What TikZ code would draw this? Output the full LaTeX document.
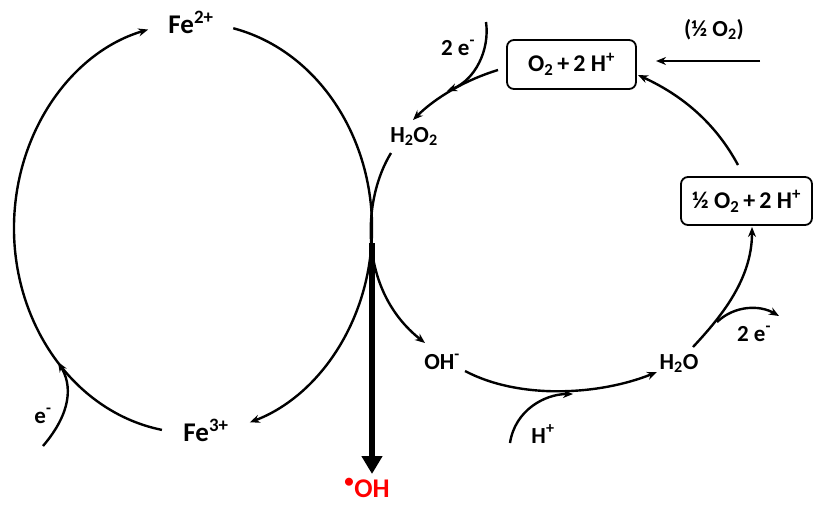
\documentclass[tikz,border=0pt]{standalone}
\usepackage{fontspec}
\setmainfont{Carlito}
\usetikzlibrary{arrows.meta}
\begin{document}
\begin{tikzpicture}[x=1pt,y=-1pt,
  cyc/.style={line width=2.4pt,-{Stealth[length=10pt,width=8pt]}},
  bigarrow/.style={line width=6pt,-{Triangle[length=18pt,width=20pt]}},
  big/.style={font=\fontsize{27}{30}\selectfont\bfseries,inner sep=0pt,anchor=base},
  lbl/.style={font=\fontsize{23}{26}\selectfont\bfseries,inner sep=0pt,anchor=base},
  box/.style={draw,line width=1.8pt,rounded corners=7pt,font=\fontsize{24}{26}\selectfont\bfseries,inner sep=0pt}
]
\useasboundingbox (0,0) rectangle (816,504);

% labels
\node[big] (fe2) at (191,33) {Fe\textsuperscript{2+}};
\node[big] (fe3) at (206,441) {Fe\textsuperscript{3+}};
\node[big,text=red] (oh) at (367,497) {\textsuperscript{•}OH};
\node[lbl] (h2o2) at (414,142) {H\textsubscript{2}O\textsubscript{2}};
\node[lbl] (ohm) at (442,369) {OH\textsuperscript{-}};
\node[lbl] (h2o) at (679,369) {H\textsubscript{2}O};
\node[lbl] (hp) at (543,443) {H\textsuperscript{+}};
\node[lbl] (e2a) at (458,55) {2 e\textsuperscript{-}};
\node[lbl] (e2b) at (754,341) {2 e\textsuperscript{-}};
\node[lbl] (halfo2) at (714,36) {(½ O\textsubscript{2})};
\node[lbl] (em) at (43,423) {e\textsuperscript{-}};
\node[box,minimum width=129pt,minimum height=49pt] (o2box) at (571.5,64.5) {O\textsubscript{2}\,+\,2 H\textsuperscript{+}};
\node[box,minimum width=131pt,minimum height=48pt] (hbox) at (746.5,201) {½ O\textsubscript{2}\,+\,2 H\textsuperscript{+}};

% left (iron) cycle
\coordinate (elc) at (193,228);
\draw[cyc] ([shift={(-77:179 and 205)}]elc) arc[start angle=-77,end angle=71.5,x radius=179,y radius=205];
\draw[cyc] ([shift={(100:179 and 205)}]elc) arc[start angle=100,end angle=255.5,x radius=179,y radius=205];
\coordinate (emstart) at (43,446);
\coordinate (emend) at (58,362);
\draw[cyc] (emstart) .. controls (72,412) and (72,385) .. (emend);

% hydroxyl radical
\coordinate (touch) at (372,243);
\coordinate (ohtip) at (372,474);
\draw[bigarrow] (touch) -- (ohtip);

% right (oxygen) cycle
\coordinate (o2out) at (498,70);
\coordinate (h2o2in) at (413,120);
\draw[cyc] (o2out) .. controls (465,80) and (435,98) .. (h2o2in);
\coordinate (e2astart) at (486,22);
\coordinate (e2aend) at (447,91);
\draw[cyc] (e2astart) .. controls (490,50) and (475,80) .. (e2aend);
\coordinate (h2o2out) at (391,153);
\coordinate (ohmin) at (425,343);
\draw[cyc] (h2o2out) .. controls (362,200) and (358,290) .. (ohmin);
\coordinate (ohmout) at (465,371);
\coordinate (h2oin) at (657,372);
\draw[cyc] (ohmout) .. controls (520,400) and (600,395) .. (h2oin);
\coordinate (hpstart) at (510,443);
\coordinate (hpend) at (573,394);
\draw[cyc] (hpstart) .. controls (515,410) and (545,394) .. (hpend);
\coordinate (h2oout) at (693,347);
\coordinate (hboxin) at (752,227);
\draw[cyc] (h2oout) .. controls (720,318) and (752,280) .. (hboxin);
\coordinate (e2bstart) at (717,322);
\coordinate (e2bend) at (779,316);
\draw[cyc] (e2bstart) .. controls (735,305) and (760,305) .. (e2bend);
\coordinate (hboxout) at (738,165);
\coordinate (o2in) at (638,75);
\draw[cyc] (hboxout) .. controls (718,128) and (688,98) .. (o2in);
\coordinate (o2src) at (760,61);
\coordinate (o2tip) at (656,61);
\draw[line width=1.6pt,-{Stealth[length=10pt,width=8pt]}] (o2src) -- (o2tip);
\end{tikzpicture}
\end{document}
